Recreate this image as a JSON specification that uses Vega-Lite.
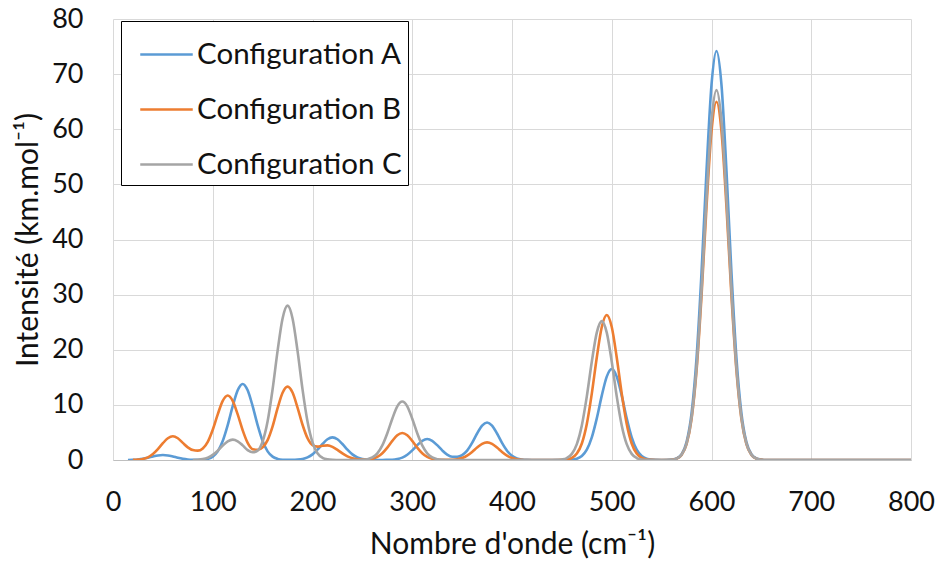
{
  "$schema": "https://vega.github.io/schema/vega-lite/v6.json",
  "width": 798,
  "height": 441,
  "autosize": {"type": "none"},
  "padding": {"left": 113, "top": 19, "right": 30, "bottom": 104},
  "background": "#ffffff",
  "datasets": {
    "A": [
      {"x":15,"y":0},{"x":20,"y":0.04},{"x":25,"y":0.1},{"x":30,"y":0.22},{"x":35,"y":0.41},{"x":40,"y":0.64},{"x":45,"y":0.83},{"x":50,"y":0.9},{"x":55,"y":0.83},{"x":60,"y":0.64},{"x":65,"y":0.41},{"x":70,"y":0.22},{"x":75,"y":0.1},{"x":80,"y":0.04},{"x":85,"y":0.02},{"x":90,"y":0.05},{"x":95,"y":0.2},{"x":100,"y":0.61},{"x":105,"y":1.57},{"x":110,"y":3.44},{"x":115,"y":6.32},{"x":120,"y":9.76},{"x":125,"y":12.65},{"x":130,"y":13.8},{"x":135,"y":12.65},{"x":140,"y":9.76},{"x":145,"y":6.32},{"x":150,"y":3.44},{"x":155,"y":1.57},{"x":160,"y":0.61},{"x":165,"y":0.2},{"x":170,"y":0.05},{"x":175,"y":0.02},{"x":180,"y":0.02},{"x":185,"y":0.06},{"x":190,"y":0.18},{"x":195,"y":0.47},{"x":200,"y":1.02},{"x":205,"y":1.88},{"x":210,"y":2.9},{"x":215,"y":3.76},{"x":220,"y":4.1},{"x":225,"y":3.76},{"x":230,"y":2.9},{"x":235,"y":1.88},{"x":240,"y":1.02},{"x":245,"y":0.47},{"x":250,"y":0.18},{"x":255,"y":0.06},{"x":260,"y":0.02},{"x":265,"y":0.01},{"x":270,"y":0},{"x":275,"y":0.02},{"x":280,"y":0.05},{"x":285,"y":0.17},{"x":290,"y":0.43},{"x":295,"y":0.95},{"x":300,"y":1.74},{"x":305,"y":2.69},{"x":310,"y":3.48},{"x":315,"y":3.8},{"x":320,"y":3.48},{"x":325,"y":2.69},{"x":330,"y":1.75},{"x":335,"y":0.98},{"x":340,"y":0.6},{"x":345,"y":0.6},{"x":350,"y":0.9},{"x":355,"y":1.71},{"x":360,"y":3.11},{"x":365,"y":4.81},{"x":370,"y":6.24},{"x":375,"y":6.8},{"x":380,"y":6.24},{"x":385,"y":4.81},{"x":390,"y":3.11},{"x":395,"y":1.69},{"x":400,"y":0.78},{"x":405,"y":0.3},{"x":410,"y":0.1},{"x":415,"y":0.03},{"x":420,"y":0.01},{"x":430,"y":0},{"x":440,"y":0},{"x":450,"y":0},{"x":455,"y":0.02},{"x":460,"y":0.06},{"x":465,"y":0.23},{"x":470,"y":0.73},{"x":475,"y":1.88},{"x":480,"y":4.11},{"x":485,"y":7.56},{"x":490,"y":11.67},{"x":495,"y":15.13},{"x":500,"y":16.5},{"x":505,"y":15.13},{"x":510,"y":11.67},{"x":515,"y":7.56},{"x":520,"y":4.11},{"x":525,"y":1.88},{"x":530,"y":0.73},{"x":535,"y":0.23},{"x":540,"y":0.06},{"x":545,"y":0.02},{"x":550,"y":0},{"x":555,"y":0},{"x":560,"y":0.07},{"x":565,"y":0.29},{"x":570,"y":1.05},{"x":575,"y":3.26},{"x":580,"y":8.46},{"x":585,"y":18.48},{"x":590,"y":33.98},{"x":595,"y":52.46},{"x":600,"y":68.04},{"x":605,"y":74.2},{"x":610,"y":68.04},{"x":615,"y":52.46},{"x":620,"y":33.98},{"x":625,"y":18.48},{"x":630,"y":8.46},{"x":635,"y":3.26},{"x":640,"y":1.05},{"x":645,"y":0.29},{"x":650,"y":0.07},{"x":655,"y":0.01},{"x":660,"y":0},{"x":700,"y":0},{"x":750,"y":0},{"x":800,"y":0}
    ],
    "B": [
      {"x":20,"y":0.02},{"x":25,"y":0.06},{"x":30,"y":0.19},{"x":35,"y":0.49},{"x":40,"y":1.07},{"x":45,"y":1.97},{"x":50,"y":3.04},{"x":55,"y":3.94},{"x":60,"y":4.3},{"x":65,"y":3.94},{"x":70,"y":3.1},{"x":75,"y":2.3},{"x":80,"y":1.8},{"x":85,"y":1.7},{"x":90,"y":2.1},{"x":95,"y":3.3},{"x":100,"y":5.5},{"x":105,"y":8.27},{"x":110,"y":10.73},{"x":115,"y":11.7},{"x":120,"y":10.73},{"x":125,"y":8.27},{"x":130,"y":5.4},{"x":135,"y":3.1},{"x":140,"y":1.95},{"x":145,"y":1.85},{"x":150,"y":2.3},{"x":155,"y":3.6},{"x":160,"y":6.1},{"x":165,"y":9.4},{"x":170,"y":12.2},{"x":175,"y":13.31},{"x":180,"y":12.24},{"x":185,"y":9.51},{"x":190,"y":6.39},{"x":195,"y":3.96},{"x":200,"y":2.71},{"x":205,"y":2.43},{"x":210,"y":2.57},{"x":215,"y":2.65},{"x":220,"y":2.39},{"x":225,"y":1.84},{"x":230,"y":1.19},{"x":235,"y":0.65},{"x":240,"y":0.3},{"x":245,"y":0.12},{"x":250,"y":0.06},{"x":255,"y":0.08},{"x":260,"y":0.22},{"x":265,"y":0.56},{"x":270,"y":1.22},{"x":275,"y":2.24},{"x":280,"y":3.46},{"x":285,"y":4.49},{"x":290,"y":4.9},{"x":295,"y":4.49},{"x":300,"y":3.46},{"x":305,"y":2.24},{"x":310,"y":1.22},{"x":315,"y":0.56},{"x":320,"y":0.22},{"x":325,"y":0.07},{"x":330,"y":0.02},{"x":335,"y":0.02},{"x":340,"y":0.05},{"x":345,"y":0.14},{"x":350,"y":0.36},{"x":355,"y":0.8},{"x":360,"y":1.47},{"x":365,"y":2.26},{"x":370,"y":2.93},{"x":375,"y":3.2},{"x":380,"y":2.93},{"x":385,"y":2.26},{"x":390,"y":1.47},{"x":395,"y":0.8},{"x":400,"y":0.36},{"x":405,"y":0.14},{"x":410,"y":0.05},{"x":415,"y":0.01},{"x":420,"y":0},{"x":430,"y":0},{"x":440,"y":0},{"x":445,"y":0},{"x":450,"y":0.02},{"x":455,"y":0.1},{"x":460,"y":0.37},{"x":465,"y":1.16},{"x":470,"y":3.0},{"x":475,"y":6.55},{"x":480,"y":12.05},{"x":485,"y":18.59},{"x":490,"y":24.12},{"x":495,"y":26.3},{"x":500,"y":24.12},{"x":505,"y":18.59},{"x":510,"y":12.05},{"x":515,"y":6.55},{"x":520,"y":3.0},{"x":525,"y":1.16},{"x":530,"y":0.37},{"x":535,"y":0.1},{"x":540,"y":0.02},{"x":545,"y":0},{"x":550,"y":0},{"x":555,"y":0},{"x":560,"y":0.06},{"x":565,"y":0.25},{"x":570,"y":0.92},{"x":575,"y":2.86},{"x":580,"y":7.41},{"x":585,"y":16.19},{"x":590,"y":29.77},{"x":595,"y":45.96},{"x":600,"y":59.61},{"x":605,"y":65.0},{"x":610,"y":59.61},{"x":615,"y":45.96},{"x":620,"y":29.77},{"x":625,"y":16.19},{"x":630,"y":7.41},{"x":635,"y":2.86},{"x":640,"y":0.92},{"x":645,"y":0.25},{"x":650,"y":0.06},{"x":655,"y":0.01},{"x":660,"y":0},{"x":700,"y":0},{"x":750,"y":0},{"x":800,"y":0}
    ],
    "C": [
      {"x":80,"y":0.01},{"x":85,"y":0.05},{"x":90,"y":0.16},{"x":95,"y":0.42},{"x":100,"y":0.92},{"x":105,"y":1.69},{"x":110,"y":2.62},{"x":115,"y":3.39},{"x":120,"y":3.7},{"x":125,"y":3.4},{"x":130,"y":2.65},{"x":135,"y":1.8},{"x":140,"y":1.4},{"x":145,"y":1.7},{"x":150,"y":3.35},{"x":155,"y":7.02},{"x":160,"y":12.83},{"x":165,"y":19.8},{"x":170,"y":25.68},{"x":175,"y":28.0},{"x":180,"y":25.68},{"x":185,"y":19.8},{"x":190,"y":12.82},{"x":195,"y":6.97},{"x":200,"y":3.19},{"x":205,"y":1.23},{"x":210,"y":0.4},{"x":215,"y":0.11},{"x":220,"y":0.03},{"x":225,"y":0.01},{"x":230,"y":0},{"x":240,"y":0},{"x":245,"y":0.01},{"x":250,"y":0.04},{"x":255,"y":0.15},{"x":260,"y":0.47},{"x":265,"y":1.21},{"x":270,"y":2.64},{"x":275,"y":4.85},{"x":280,"y":7.49},{"x":285,"y":9.72},{"x":290,"y":10.6},{"x":295,"y":9.72},{"x":300,"y":7.49},{"x":305,"y":4.85},{"x":310,"y":2.64},{"x":315,"y":1.21},{"x":320,"y":0.47},{"x":325,"y":0.15},{"x":330,"y":0.04},{"x":335,"y":0.01},{"x":340,"y":0},{"x":360,"y":0},{"x":380,"y":0},{"x":400,"y":0},{"x":420,"y":0},{"x":440,"y":0},{"x":445,"y":0.02},{"x":450,"y":0.1},{"x":455,"y":0.36},{"x":460,"y":1.11},{"x":465,"y":2.87},{"x":470,"y":6.27},{"x":475,"y":11.54},{"x":480,"y":17.82},{"x":485,"y":23.11},{"x":490,"y":25.2},{"x":495,"y":23.11},{"x":500,"y":17.82},{"x":505,"y":11.54},{"x":510,"y":6.27},{"x":515,"y":2.87},{"x":520,"y":1.11},{"x":525,"y":0.36},{"x":530,"y":0.1},{"x":535,"y":0.02},{"x":540,"y":0},{"x":550,"y":0},{"x":560,"y":0.06},{"x":565,"y":0.26},{"x":570,"y":0.95},{"x":575,"y":2.95},{"x":580,"y":7.65},{"x":585,"y":16.71},{"x":590,"y":30.73},{"x":595,"y":47.44},{"x":600,"y":61.53},{"x":605,"y":67.1},{"x":610,"y":61.53},{"x":615,"y":47.44},{"x":620,"y":30.73},{"x":625,"y":16.71},{"x":630,"y":7.65},{"x":635,"y":2.95},{"x":640,"y":0.95},{"x":645,"y":0.26},{"x":650,"y":0.06},{"x":655,"y":0.01},{"x":660,"y":0},{"x":700,"y":0},{"x":750,"y":0},{"x":800,"y":0}
    ]
  },
  "encoding": {
    "x": {
      "field": "x", "type": "quantitative",
      "scale": {"domain": [0, 800], "nice": false, "zero": false},
      "axis": {"values": [0,100,200,300,400,500,600,700,800], "title": "Nombre d'onde (cm⁻¹)", "labelPadding": 29, "titlePadding": 14, "labelFlush": false, "labelOverlap": false}
    },
    "y": {
      "field": "y", "type": "quantitative",
      "scale": {"domain": [0, 80], "nice": false},
      "axis": {"values": [0,10,20,30,40,50,60,70,80], "title": "Intensité (km.mol⁻¹)", "labelPadding": 30, "titlePadding": 8, "domain": false, "labelFlush": false, "labelOverlap": false}
    }
  },
  "layer": [
    {"data": {"name": "A"}, "mark": {"type": "line", "interpolate": "monotone", "strokeWidth": 2.6, "clip": true}, "encoding": {"color": {"datum": "Configuration A"}}},
    {"data": {"name": "B"}, "mark": {"type": "line", "interpolate": "monotone", "strokeWidth": 2.6, "clip": true}, "encoding": {"color": {"datum": "Configuration B"}}},
    {"data": {"name": "C"}, "mark": {"type": "line", "interpolate": "monotone", "strokeWidth": 2.6, "clip": true}, "encoding": {"color": {"datum": "Configuration C"}}}
  ],
  "resolve": {"scale": {"color": "shared"}},
  "config": {
    "font": "Lato",
    "view": {"stroke": null},
    "range": {"category": ["#5B9BD5", "#ED7D31", "#A5A5A5"]},
    "axis": {
      "grid": true, "gridColor": "#D9D9D9", "gridWidth": 1,
      "ticks": false, "tickSize": 0,
      "domainColor": "#BFBFBF", "domainWidth": 1,
      "labelFont": "Lato", "labelFontSize": 27, "labelColor": "#111111",
      "titleFont": "Lato", "titleFontSize": 30, "titleFontWeight": "normal", "titleColor": "#111111"
    },
    "legend": {
      "orient": "none", "legendX": 8, "legendY": 2,
      "title": null,
      "strokeColor": "#000000", "fillColor": "#ffffff", "padding": 6,
      "symbolType": "stroke", "symbolSize": 2756, "symbolStrokeWidth": 2.5, "symbolOffset": 12,
      "labelOffset": 3, "labelFont": "Lato", "labelFontSize": 29.5, "labelColor": "#111111", "labelLimit": 500,
      "rowPadding": 13
    }
  }
}
